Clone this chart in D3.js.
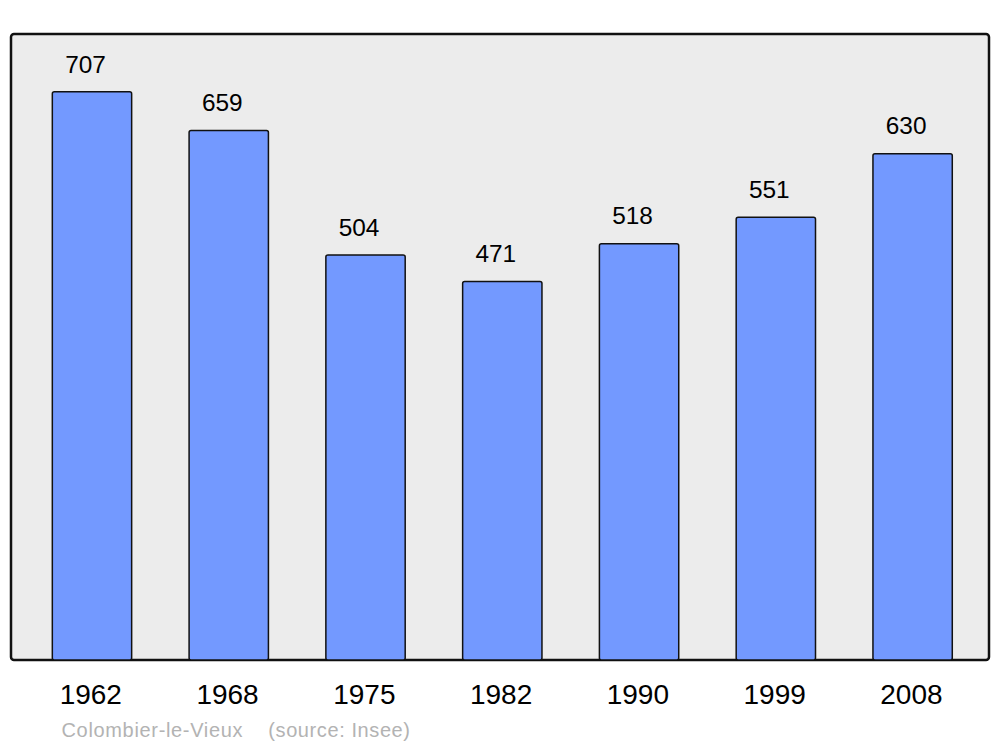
<!DOCTYPE html>
<html><head><meta charset="utf-8">
<script src="https://cdn.jsdelivr.net/npm/d3@7"></script>
<style>body{margin:0;background:#fff}svg{display:block}text{font-family:"Liberation Sans",Arial,sans-serif}</style>
</head><body>
<svg id="c" width="1000" height="747"></svg>
<script>
const years = ["1962","1968","1975","1982","1990","1999","2008"];
const population = [707,659,504,471,518,551,630];
const place = "Colombier-le-Vieux";
const source = "(source: Insee)";

const svg = d3.select("#c");
const x = d3.scaleBand().domain(years).range([23.6, 981]).paddingInner(0.42).paddingOuter(0.21);
const y = d3.scaleLinear().domain([0, 779]).range([660, 34]);

svg.append("rect").attr("x", 11).attr("y", 34).attr("width", 978).attr("height", 626)
  .attr("rx", 3).attr("fill", "#ececec").attr("stroke", "#111").attr("stroke-width", 2.5);

const g = svg.append("g");
g.selectAll("rect.bar").data(population).join("rect").attr("class","bar")
  .attr("x", (d,i) => x(years[i]))
  .attr("y", d => y(d))
  .attr("width", x.bandwidth())
  .attr("height", d => y(0) - y(d))
  .attr("rx", 2)
  .attr("fill", "#7399ff").attr("stroke", "#111").attr("stroke-width", 1.5);

g.selectAll("text.val").data(population).join("text").attr("class","val")
  .attr("x", (d,i) => x(years[i]) + x.bandwidth()/2 - 6.5)
  .attr("y", d => y(d) - 19.3)
  .attr("text-anchor", "middle").attr("font-size", 24.4).attr("fill", "#000")
  .text(d => d);

g.selectAll("text.yr").data(years).join("text").attr("class","yr")
  .attr("x", d => x(d) + x.bandwidth()/2 - 1.2)
  .attr("y", 703.5)
  .attr("text-anchor", "middle").attr("font-size", 28).attr("fill", "#000")
  .text(d => d);

svg.append("text").attr("x", 61.5).attr("y", 737).attr("font-size", 20).attr("fill", "#b3b3b3")
  .attr("textLength", 181).attr("lengthAdjust", "spacing").text(place);
svg.append("text").attr("x", 268.3).attr("y", 737).attr("font-size", 20).attr("fill", "#b3b3b3")
  .attr("textLength", 141.7).attr("lengthAdjust", "spacing").text(source);
</script>
</body></html>
